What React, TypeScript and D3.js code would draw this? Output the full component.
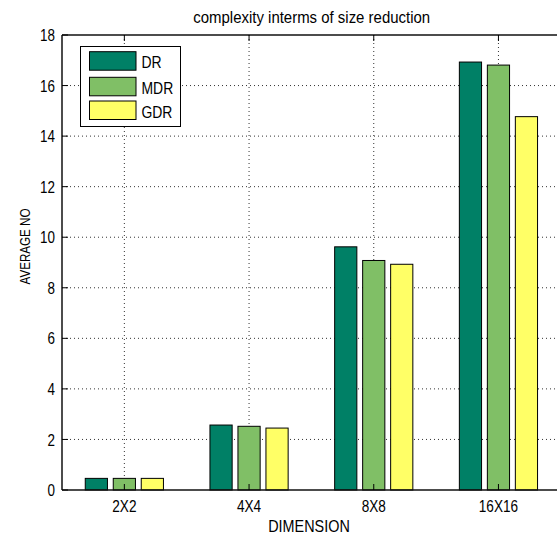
import React from "react";
import * as d3 from "d3";

const categories = ["2X2", "4X4", "8X8", "16X16"];
const seriesNames = ["DR", "MDR", "GDR"];
const DR = [0.46, 2.57, 9.62, 16.93];
const MDR = [0.46, 2.52, 9.08, 16.81];
const GDR = [0.46, 2.45, 8.93, 14.77];
const yTicks = [0, 2, 4, 6, 8, 10, 12, 14, 16, 18];
const colors = ["#008066", "#80BF66", "#FFFF66"];

const W = 557;
const H = 537;
const FONT = "'Liberation Sans', Arial, sans-serif";

function T(props: {
  x: number;
  y: number;
  sx: number;
  size: number;
  anchor?: string;
  rotate?: number;
  dy?: string;
  children: React.ReactNode;
}) {
  const { x, y, sx, size, anchor = "start", rotate = 0, dy, children } = props;
  return (
    <g transform={`translate(${x},${y}) rotate(${rotate}) scale(${sx},1)`}>
      <text x={0} y={0} dy={dy} textAnchor={anchor} fontSize={size} fill="#000">
        {children}
      </text>
    </g>
  );
}

export default function App() {
  const series = [DR, MDR, GDR];
  const x = d3.scaleLinear().domain([0.5, 4.5]).range([62, 62 + 4 * 124.7]);
  const y = d3.scaleLinear().domain([0, 18]).range([490, 35]);
  const offset = 0.2245;
  const bw = 0.178;
  const left = x(0.5);
  const right = x(4.5);
  const top = y(18);
  const bottom = y(0);

  return (
    <svg
      width={W}
      height={H}
      style={{ position: "absolute", left: 0, top: 0, background: "#fff" }}
      fontFamily={FONT}
    >
      <rect x={0} y={0} width={W} height={H} fill="#fff" />
      {/* grid */}
      {yTicks.slice(1, -1).map((t) => (
        <line key={"gy" + t} x1={left} x2={right} y1={y(t)} y2={y(t)} stroke="#333" strokeWidth={1} strokeDasharray="1 3" />
      ))}
      {categories.map((c, i) => (
        <line key={"gx" + c} x1={x(i + 1)} x2={x(i + 1)} y1={top} y2={bottom} stroke="#333" strokeWidth={1} strokeDasharray="1 3" />
      ))}
      {/* bars */}
      {series.map((vals, j) =>
        vals.map((v, i) => {
          const cx = i + 1 + (j - 1) * offset;
          const x0 = x(cx - bw / 2);
          const x1 = x(cx + bw / 2);
          return (
            <rect
              key={`b${j}-${i}`}
              x={x0}
              y={y(v)}
              width={x1 - x0}
              height={y(0) - y(v)}
              fill={colors[j]}
              stroke="#000"
              strokeWidth={1}
            />
          );
        })
      )}
      {/* axes box */}
      <line x1={left} x2={right} y1={top} y2={top} stroke="#111" strokeWidth={1.5} />
      <line x1={left} x2={right} y1={bottom} y2={bottom} stroke="#111" strokeWidth={1.5} />
      <line x1={left} x2={left} y1={top} y2={bottom} stroke="#111" strokeWidth={1.5} />
      {/* ticks */}
      {yTicks.map((t) => (
        <g key={"yt" + t}>
          <line x1={left} x2={left + 6} y1={y(t)} y2={y(t)} stroke="#000" />
          <T x={55} y={y(t)} dy="0.36em" anchor="end" size={17} sx={0.79}>
            {t}
          </T>
        </g>
      ))}
      {categories.map((c, i) => (
        <g key={"xt" + c}>
          <line x1={x(i + 1)} x2={x(i + 1)} y1={top} y2={top + 6} stroke="#000" />
          <line x1={x(i + 1)} x2={x(i + 1)} y1={bottom} y2={bottom - 6} stroke="#000" />
          <T x={x(i + 1)} y={511.7} anchor="middle" size={16} sx={0.85}>
            {c}
          </T>
        </g>
      ))}
      {/* labels */}
      <T x={309} y={531.7} anchor="middle" size={16} sx={0.9}>
        DIMENSION
      </T>
      <T x={29.5} y={246.5} anchor="middle" size={15.5} sx={0.75} rotate={-90}>
        AVERAGE NO
      </T>
      <T x={311.7} y={22.7} anchor="middle" size={17} sx={0.88}>
        complexity interms of size reduction
      </T>
      {/* legend */}
      <rect x={80.5} y={46.5} width={100} height={80} fill="#fff" stroke="#000" strokeWidth={1} />
      {seriesNames.map((s, j) => {
        const ys = [51.7, 77.3, 101][j];
        return (
          <g key={"lg" + s}>
            <rect x={89.5} y={ys} width={46.5} height={18.5} fill={colors[j]} stroke="#000" strokeWidth={1} />
            <T x={141.5} y={ys + 16.6} size={16} sx={0.87}>
              {s}
            </T>
          </g>
        );
      })}
    </svg>
  );
}
